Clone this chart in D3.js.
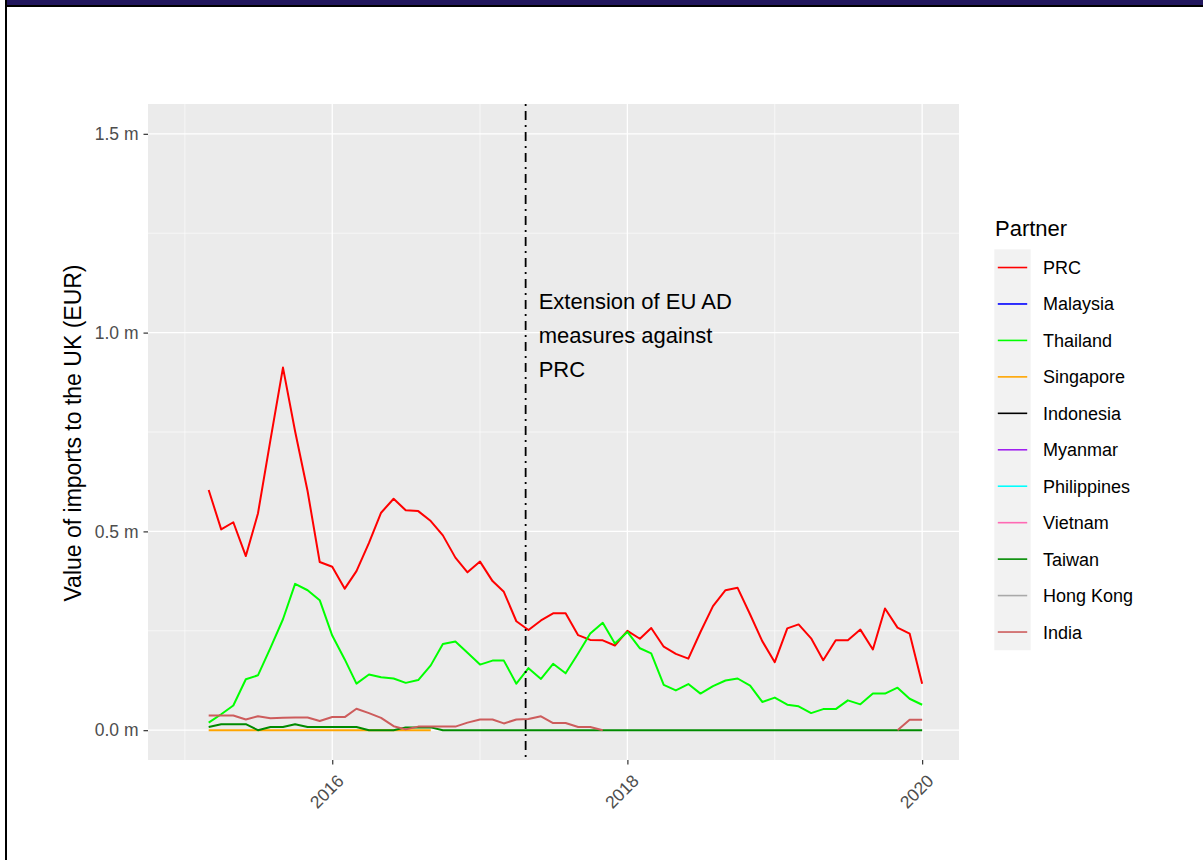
<!DOCTYPE html>
<html><head><meta charset="utf-8">
<script src="https://cdn.jsdelivr.net/npm/d3@7"></script>
<style>body{margin:0;background:#fff;} svg{display:block;font-family:"Liberation Sans",Arial,sans-serif;}</style>
</head><body><svg id="c" width="1203" height="860"></svg>
<script>
const months = [
 "2015-03","2015-04","2015-05","2015-06","2015-07","2015-08","2015-09","2015-10","2015-11","2015-12",
 "2016-01","2016-02","2016-03","2016-04","2016-05","2016-06","2016-07","2016-08","2016-09","2016-10","2016-11","2016-12",
 "2017-01","2017-02","2017-03","2017-04","2017-05","2017-06","2017-07","2017-08","2017-09","2017-10","2017-11","2017-12",
 "2018-01","2018-02","2018-03","2018-04","2018-05","2018-06","2018-07","2018-08","2018-09","2018-10","2018-11","2018-12",
 "2019-01","2019-02","2019-03","2019-04","2019-05","2019-06","2019-07","2019-08","2019-09","2019-10","2019-11","2019-12",
 "2020-01"];
const partners = ["PRC","Malaysia","Thailand","Singapore","Indonesia","Myanmar","Philippines","Vietnam","Taiwan","Hong Kong","India"];
const partnerColors = ["#FF0000","#0000FF","#00FF00","#FFA500","#000000","#A020F0","#00FFFF","#FF69B4","#008B00","#A9A9A9","#CD5C5C"];

// values in million EUR
const prc = [0.604,0.505,0.523,0.438,0.545,0.730,0.912,0.752,0.601,0.423,
 0.411,0.356,0.400,0.471,0.547,0.582,0.553,0.551,0.526,0.490,0.434,0.397,
 0.424,0.375,0.348,0.274,0.252,0.276,0.294,0.294,0.239,0.227,0.226,0.213,
 0.250,0.230,0.257,0.210,0.192,0.180,0.247,0.312,0.352,0.358,0.291,0.224,
 0.171,0.256,0.266,0.231,0.176,0.226,0.226,0.253,0.203,0.306,0.258,0.243,
 0.117];
const malaysia = [];
const thailand = [0.019,0.040,0.062,0.128,0.138,0.207,0.279,0.368,0.352,0.327,
 0.238,0.178,0.117,0.140,0.133,0.130,0.119,0.126,0.163,0.217,0.223,0.195,
 0.165,0.175,0.175,0.117,0.156,0.129,0.167,0.143,0.193,0.243,0.270,0.218,
 0.247,0.206,0.193,0.114,0.100,0.116,0.092,0.111,0.125,0.130,0.112,0.071,
 0.082,0.064,0.060,0.043,0.053,0.053,0.075,0.065,0.092,0.092,0.107,0.079,
 0.064];
const singapore = [0,0,0,0,0,0,0,0,0,0,
 0,0,0,0,0,0,0,0,0];
const indonesia = [];
const myanmar = [];
const philippines = [];
const vietnam = [];
const taiwan = [0.008,0.015,0.015,0.015,0,0.008,0.008,0.015,0.008,0.008,
 0.008,0.008,0.008,0,0,0,0.007,0.007,0.007,0,0,0,
 0,0,0,0,0,0,0,0,0,0,0,0,
 0,0,0,0,0,0,0,0,0,0,0,0,
 0,0,0,0,0,0,0,0,0,0,0,0,
 0];
const hongKong = [];
const india = [0.037,0.037,0.037,0.027,0.035,0.030,0.031,0.032,0.032,0.023,
 0.033,0.033,0.054,0.043,0.031,0.010,0.002,0.009,0.009,0.009,0.009,0.019,
 0.027,0.027,0.017,0.027,0.028,0.035,0.018,0.018,0.008,0.008,0,null,
 null,null,null,null,null,null,null,null,null,null,null,null,
 null,null,null,null,null,null,null,null,null,null,0,0.026,
 0.026];
const seriesValues = [prc,malaysia,thailand,singapore,indonesia,myanmar,philippines,vietnam,taiwan,hongKong,india];

const yTicks = [0,0.5,1.0,1.5];
const yTickLabels = ["0.0 m","0.5 m","1.0 m","1.5 m"];
const yMinor = [0.25,0.75,1.25];
const xTicks = ["2016-01-01","2018-01-01","2020-01-01"];
const xTickLabels = ["2016","2018","2020"];
const xMinor = ["2015-01-01","2017-01-01","2019-01-01"];
const xLimits = ["2015-01-01","2020-01-01"];
const yLimits = [0,1.5];
const adDate = "2017-04-24";
const annotationLines = ["Extension of EU AD","measures against","PRC"];
const yTitle = "Value of imports to the UK (EUR)";
const legendTitle = "Partner";

const svg = d3.select("#c");
const pd = d3.utcParse("%Y-%m-%d");
const pm = d3.utcParse("%Y-%m");

// frame decoration
svg.append("rect").attr("x",7).attr("y",0).attr("width",1196).attr("height",5).attr("fill","#22175E");
svg.append("rect").attr("x",5).attr("y",5).attr("width",1198).attr("height",2).attr("fill","#000");
svg.append("rect").attr("x",5).attr("y",0).attr("width",2).attr("height",860).attr("fill","#000");

const P = {l:148, r:959, t:104, b:760};
const xl0 = pd(xLimits[0]).getTime(), xl1 = pd(xLimits[1]).getTime();
const xs = (xl1-xl0)*0.05;
const x = d3.scaleUtc().domain([new Date(xl0-xs), new Date(xl1+xs)]).range([P.l,P.r]);
const ys = (yLimits[1]-yLimits[0])*0.05;
const y = d3.scaleLinear().domain([yLimits[0]-ys, yLimits[1]+ys]).range([P.b,P.t]);

svg.append("rect").attr("x",P.l).attr("y",P.t).attr("width",P.r-P.l).attr("height",P.b-P.t).attr("fill","#EBEBEB");
const g = svg.append("g");
yMinor.forEach(v=>g.append("line").attr("x1",P.l).attr("x2",P.r).attr("y1",y(v)).attr("y2",y(v)).attr("stroke","#fff").attr("stroke-width",0.6));
xMinor.forEach(v=>g.append("line").attr("y1",P.t).attr("y2",P.b).attr("x1",x(pd(v))).attr("x2",x(pd(v))).attr("stroke","#fff").attr("stroke-width",0.6));
yTicks.forEach(v=>g.append("line").attr("x1",P.l).attr("x2",P.r).attr("y1",y(v)).attr("y2",y(v)).attr("stroke","#fff").attr("stroke-width",1.3));
xTicks.forEach(v=>g.append("line").attr("y1",P.t).attr("y2",P.b).attr("x1",x(pd(v))).attr("x2",x(pd(v))).attr("stroke","#fff").attr("stroke-width",1.3));

// series
const line = d3.line().defined(d=>d.v!=null).x(d=>x(d.t)).y(d=>y(d.v));
seriesValues.forEach((vals,i)=>{
  const data = vals.map((v,j)=>({t:pm(months[j]), v:v}));
  if(data.length<2) return;
  svg.append("path").datum(data).attr("d",line).attr("fill","none")
    .attr("stroke",partnerColors[i]).attr("stroke-width",2).attr("stroke-linejoin","round");
});

// vertical line
const vx = x(pd(adDate));
svg.append("line").attr("x1",vx).attr("x2",vx).attr("y1",P.t).attr("y2",P.b)
  .attr("stroke","#000").attr("stroke-width",1.8).attr("stroke-dasharray","2,5,9,5");

// annotation
const ann = svg.append("text").attr("x",vx+13).attr("y",309).attr("font-size",22).attr("fill","#000");
annotationLines.forEach((s,i)=>ann.append("tspan").attr("x",vx+13).attr("y",309+i*34).text(s));

// y axis
const yAxis = d3.axisLeft(y).tickValues(yTicks).tickFormat((d,i)=>yTickLabels[i]).tickSize(4.5).tickPadding(5);
const ya = svg.append("g").attr("transform",`translate(${P.l},0)`).call(yAxis);
ya.select(".domain").remove();
ya.selectAll("line").attr("stroke","#333").attr("stroke-width",1.2);
ya.selectAll("text").attr("fill","#4D4D4D").attr("font-size",17.5).attr("font-family","Liberation Sans, Arial, sans-serif");

// x axis
const xAxis = d3.axisBottom(x).tickValues(xTicks.map(pd)).tickFormat((d,i)=>xTickLabels[i]).tickSize(4.5);
const xa = svg.append("g").attr("transform",`translate(0,${P.b})`).call(xAxis);
xa.select(".domain").remove();
xa.selectAll("line").attr("stroke","#333").attr("stroke-width",1.2);
xa.selectAll("text").attr("fill","#4D4D4D").attr("font-size",17.5).attr("font-family","Liberation Sans, Arial, sans-serif")
  .attr("text-anchor","end").attr("dy",null).attr("y",0)
  .attr("transform","translate(3,13) rotate(-45)").attr("dominant-baseline","hanging");

// y title
svg.append("text").attr("transform","translate(81,433) rotate(-90)").attr("text-anchor","middle")
  .attr("font-size",23).attr("fill","#000").text(yTitle);

// legend
svg.append("text").attr("x",995).attr("y",236).attr("font-size",22).attr("fill","#000").text(legendTitle);
const keyH = 36.45, ky0 = 249.3;
svg.append("rect").attr("x",994.3).attr("y",ky0).attr("width",36.4).attr("height",keyH*partners.length).attr("fill","#F2F2F2");
partners.forEach((p,i)=>{
  const cy = ky0 + keyH*(i+0.5);
  svg.append("line").attr("x1",997.8).attr("x2",1027.2).attr("y1",cy).attr("y2",cy).attr("stroke",partnerColors[i]).attr("stroke-width",1.6);
  svg.append("text").attr("x",1043).attr("y",cy).attr("dy","0.36em").attr("font-size",18).attr("fill","#000").text(p);
});
</script></body></html>
